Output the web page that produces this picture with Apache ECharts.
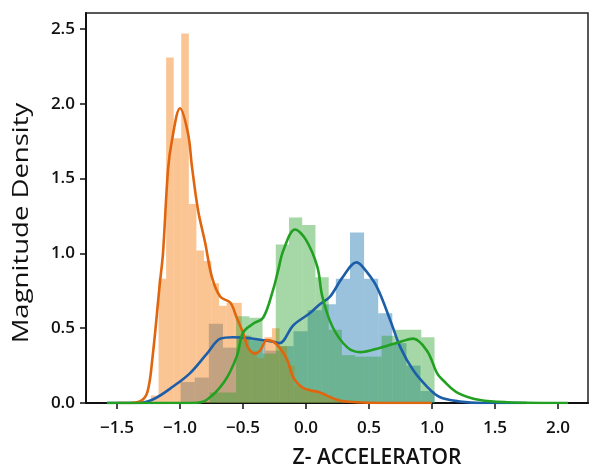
<!DOCTYPE html>
<html>
<head>
<meta charset="utf-8">
<script src="https://cdn.jsdelivr.net/npm/echarts@6/dist/echarts.min.js"></script>
<style>html,body{margin:0;padding:0;background:#fff}#c{width:589px;height:472px}</style>
</head>
<body>
<div id="c"></div>
<script>
// ---- data ----
const xTicks = [-1.5, -1.0, -0.5, 0.0, 0.5, 1.0, 1.5, 2.0];
const yTicks = [0.0, 0.5, 1.0, 1.5, 2.0, 2.5];

// histograms: first bin left edge, bin width, bar heights
const blueStart = -0.995, blueWidth = 0.112;
const blueHeights = [0.14, 0.17, 0.53, 0.37, 0.45, 0.42, 0.35, 0.38, 0.48, 0.62, 0.66, 0.83, 1.14, 0.83, 0.60, 0.40, 0.25, 0.08];

const orangeStart = -1.23, orangeWidth = 0.06;
const orangeHeights = [0.05, 0.83, 2.31, 1.77, 2.47, 1.33, 1.02, 0.95, 0.80, 0.65, 0.67, 0.67, 0.45, 0.35, 0.30, 0.44, 0.50, 0.38, 0.25, 0.12, 0.10, 0.08, 0.06, 0.05, 0.03, 0.02, 0.01];

const greenStart = -0.765, greenWidth = 0.105;
const greenHeights = [0.07, 0.07, 0.58, 0.57, 0.33, 1.06, 1.24, 1.19, 0.84, 0.49, 0.32, 0.31, 0.31, 0.45, 0.49, 0.49, 0.44];

// KDE curves (x, density)
const blueKdeX = [-1.58, -1.32, -1.2, -1.055, -0.92, -0.786, -0.68, -0.58, -0.42, -0.26, -0.21, -0.10, 0.03, 0.11, 0.19, 0.29, 0.40, 0.45, 0.56, 0.67, 0.75, 0.85, 0.96, 1.06, 1.22, 1.4, 1.75];
const blueKdeY = [0, 0.0, 0.03, 0.11, 0.20, 0.33, 0.43, 0.44, 0.43, 0.41, 0.40, 0.52, 0.60, 0.66, 0.71, 0.84, 0.94, 0.91, 0.78, 0.55, 0.37, 0.22, 0.11, 0.04, 0.01, 0.0, 0];

const orangeKdeX = [-1.5, -1.4, -1.32, -1.26, -1.22, -1.16, -1.135, -1.095, -1.063, -1.0, -0.936, -0.905, -0.857, -0.80, -0.746, -0.68, -0.60, -0.55, -0.50, -0.46, -0.405, -0.365, -0.31, -0.26, -0.21, -0.15, -0.10, -0.02, 0.11, 0.25, 0.4, 0.6, 1.0];
const orangeKdeY = [0, 0.0, 0.01, 0.07, 0.29, 0.80, 1.0, 1.56, 1.76, 1.97, 1.80, 1.58, 1.29, 1.07, 0.84, 0.71, 0.67, 0.57, 0.47, 0.37, 0.33, 0.35, 0.42, 0.41, 0.37, 0.29, 0.17, 0.10, 0.07, 0.02, 0.005, 0.0, 0];

const greenKdeX = [-1.58, -0.9, -0.79, -0.65, -0.55, -0.50, -0.42, -0.34, -0.26, -0.22, -0.18, -0.087, 0.0, 0.09, 0.13, 0.21, 0.33, 0.43, 0.59, 0.75, 0.85, 0.96, 1.04, 1.09, 1.2, 1.38, 1.6, 2.08];
const greenKdeY = [0, 0.0, 0.02, 0.14, 0.31, 0.47, 0.53, 0.57, 0.76, 0.89, 1.02, 1.16, 1.09, 0.91, 0.71, 0.51, 0.37, 0.34, 0.37, 0.41, 0.43, 0.35, 0.20, 0.15, 0.07, 0.02, 0.005, 0];

// ---- build chart ----
function bins(start, width, heights) {
  return heights.map((h, i) => [start + i * width, start + (i + 1) * width, h]);
}
function pairs(xs, ys) { return xs.map((x, i) => [x, ys[i]]); }
function histSeries(name, data, fill) {
  return {
    name, type: 'custom', data, clip: true, z: 2,
    encode: { x: [0, 1], y: 2 },
    renderItem: function (params, api) {
      const a = api.coord([api.value(0), api.value(2)]);
      const b = api.coord([api.value(1), 0]);
      return { type: 'rect', shape: { x: a[0], y: a[1], width: b[0] - a[0], height: b[1] - a[1] }, style: { fill: fill } };
    }
  };
}
function kdeSeries(name, data, color) {
  return { name, type: 'line', data, smooth: 0.35, symbol: 'none', z: 3,
    lineStyle: { color, width: 2.6 }, itemStyle: { color } };
}

const labelFont = { fontFamily: 'Open Sans', fontWeight: 600, fontSize: 17, color: '#111' };
const chart = echarts.init(document.getElementById('c'), null, { renderer: 'canvas' });
chart.setOption({
  animation: false,
  backgroundColor: '#fff',
  grid: { left: 86, right: 1, top: 13, bottom: 69, show: true, borderColor: '#222', borderWidth: 1.5, backgroundColor: 'transparent' },
  xAxis: {
    type: 'value', min: -1.746, max: 2.238,
    axisLine: { onZero: false, lineStyle: { color: '#111', width: 2 } },
    axisTick: { show: true, length: 6, customValues: xTicks, lineStyle: { color: '#111', width: 1.5 } },
    axisLabel: { customValues: xTicks, margin: 17, formatter: v => v.toFixed(1).replace('-', '\u2212'), ...labelFont },
    splitLine: { show: false }
  },
  yAxis: {
    type: 'value', min: 0, max: 2.607,
    axisLine: { show: true, onZero: false, lineStyle: { color: '#111', width: 2 } },
    axisTick: { show: true, length: 6, customValues: yTicks, lineStyle: { color: '#111', width: 1.5 } },
    axisLabel: { customValues: yTicks, margin: 11, formatter: v => v.toFixed(1), ...labelFont },
    splitLine: { show: false }
  },
  graphic: [
    { type: 'text', x: 22, y: 223, rotation: Math.PI / 2, scaleX: 1.25, style: { text: 'Magnitude Density', font: '400 22px "Open Sans"', fill: '#111', align: 'center', verticalAlign: 'middle' } },
    { type: 'text', x: 377, y: 458, style: { text: 'Z- ACCELERATOR', font: '600 21px "Open Sans"', fill: '#111', align: 'center', verticalAlign: 'middle' } }
  ],
  series: [
    histSeries('blue hist', bins(blueStart, blueWidth, blueHeights), 'rgba(31,119,180,0.45)'),
    kdeSeries('blue kde', pairs(blueKdeX, blueKdeY), '#1d5ea9'),
    histSeries('orange hist', bins(orangeStart, orangeWidth, orangeHeights), 'rgba(245,125,15,0.45)'),
    kdeSeries('orange kde', pairs(orangeKdeX, orangeKdeY), '#e0650e'),
    histSeries('green hist', bins(greenStart, greenWidth, greenHeights), 'rgba(44,160,44,0.42)'),
    kdeSeries('green kde', pairs(greenKdeX, greenKdeY), '#22a022')
  ]
});
</script>
</body>
</html>
